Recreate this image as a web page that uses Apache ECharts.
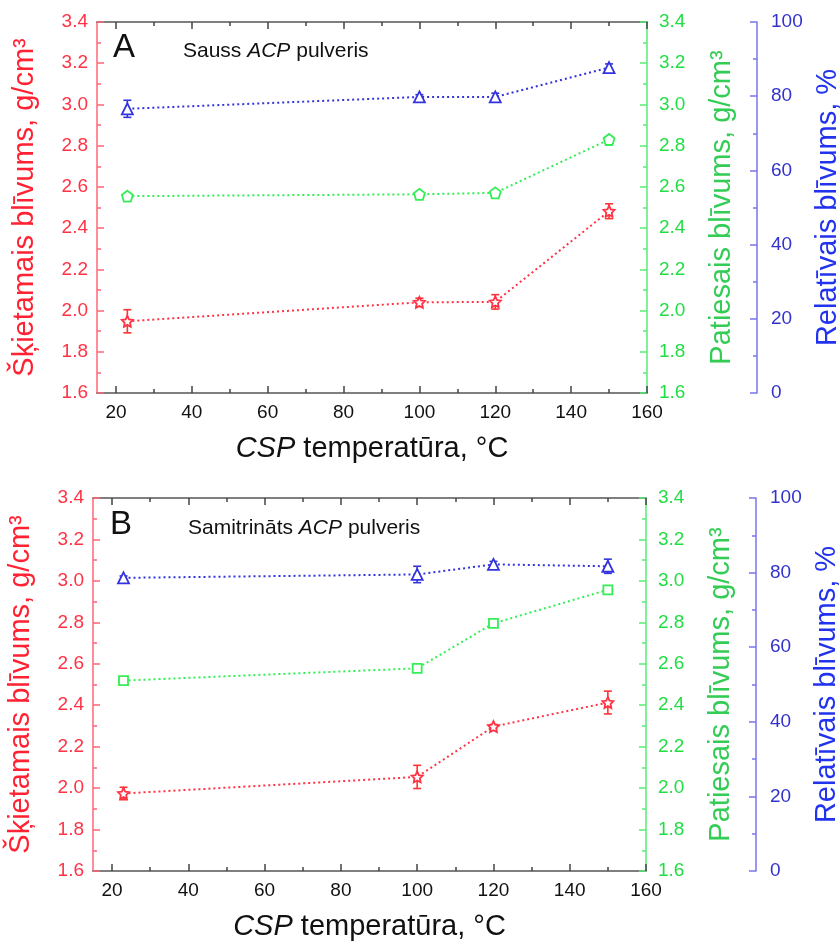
<!DOCTYPE html>
<html lang="lv">
<head>
  <meta charset="UTF-8">
  <title>CSP blīvums</title>
  <script src="https://cdn.jsdelivr.net/npm/echarts@6/dist/echarts.min.js"></script>
</head>
<body style="margin:0;background:#fff">
  <div id="main" style="width:840px;height:951px"></div>
  <script type="text/javascript">
    // dati nolasīti no attēla
    var temps = [23, 100, 120, 150];
    var xMajor = [20, 40, 60, 80, 100, 120, 140, 160];
    var xMinor = [30, 50, 70, 90, 110, 130, 150];

    // A: sauss ACP pulveris
    var apparentA = [1.948, 2.04, 2.042, 2.482];
    var apparentErrA = [0.056, 0.02, 0.035, 0.036];
    var trueA = [2.555, 2.564, 2.571, 2.83];
    var relA = [76.6, 79.8, 79.8, 87.7];
    var relErrA = [2.3, 0.6, 1.0, 1.0];

    // B: samitrināts ACP pulveris
    var apparentB = [1.974, 2.054, 2.297, 2.413];
    var apparentErrB = [0.03, 0.056, 0.01, 0.055];
    var trueB = [2.519, 2.578, 2.795, 2.957];
    var relB = [78.6, 79.5, 82.2, 81.7];
    var relErrB = [0.5, 2.2, 0.8, 1.9];

    var FONT = 'Liberation Sans, Arial, sans-serif';
    var RED = '#ff3344', GREEN = '#22dd44', BLUE = '#3333cc';
    var STAR = 'path://M0,-10L2.9,-4L9.5,-3.1L4.7,1.5L5.9,8.1L0,5L-5.9,8.1L-4.7,1.5L-9.5,-3.1L-2.9,-4Z';
    var PENTA = 'path://M0,-10L9.5,-3.1L5.9,8.1L-5.9,8.1L-9.5,-3.1Z';

    var myChart = echarts.init(document.getElementById('main'));

    function pts(vals) {
      return temps.map(function (t, i) { return [t, vals[i]]; });
    }
    function errPts(vals, errs) {
      return temps.map(function (t, i) { return [t, vals[i], errs[i]]; });
    }

    function xAxes(grid) {
      var base = {
        gridIndex: grid, type: 'value', min: 15, max: 160,
        splitLine: { show: false }
      };
      return [
        Object.assign({}, base, {
          position: 'bottom',
          axisLine: { lineStyle: { color: '#555', width: 1.5 } },
          axisTick: { inside: true, length: 7, customValues: xMajor, lineStyle: { color: '#444', width: 1.5 } },
          axisLabel: { customValues: xMajor, color: '#111', fontSize: 19, fontFamily: FONT, margin: 10 },
          name: '{i|CSP} temperatūra, °C',
          nameLocation: 'middle', nameGap: 41,
          nameTextStyle: {
            color: '#111', fontSize: 29, fontFamily: FONT,
            rich: { i: { fontStyle: 'italic', fontSize: 29, fontFamily: FONT, color: '#111' } }
          }
        }),
        Object.assign({}, base, {
          position: 'bottom',
          axisLine: { show: false },
          axisTick: { inside: true, length: 4, customValues: xMinor, lineStyle: { color: '#444', width: 1.5 } },
          axisLabel: { show: false }
        }),
        Object.assign({}, base, {
          position: 'top',
          axisLine: { lineStyle: { color: '#555', width: 1.5 } },
          axisTick: { inside: true, length: 7, customValues: xMajor, lineStyle: { color: '#444', width: 1.5 } },
          axisLabel: { show: false }
        }),
        Object.assign({}, base, {
          position: 'top',
          axisLine: { show: false },
          axisTick: { inside: true, length: 4, customValues: xMinor, lineStyle: { color: '#444', width: 1.5 } },
          axisLabel: { show: false }
        })
      ];
    }

    function yAxes(grid) {
      var fmt = function (v) { return v.toFixed(1); };
      return [
        {
          gridIndex: grid, type: 'value', position: 'left', min: 1.6, max: 3.4, interval: 0.2,
          splitLine: { show: false },
          axisLine: { show: true, lineStyle: { color: '#ff6677', width: 1.5 } },
          axisTick: { inside: true, length: 7, lineStyle: { color: '#ff6677', width: 1.5 } },
          minorTick: { show: true, splitNumber: 2, length: 4, lineStyle: { color: '#ff6677', width: 1.5 } },
          axisLabel: { formatter: fmt, color: RED, fontSize: 19, fontFamily: FONT, margin: 9 },
          name: 'Šķietamais blīvums, g/cm³', nameLocation: 'middle', nameGap: 58, nameRotate: 90,
          nameTextStyle: { color: '#ff2233', fontSize: 29, fontFamily: FONT }
        },
        {
          gridIndex: grid, type: 'value', position: 'right', min: 1.6, max: 3.4, interval: 0.2,
          splitLine: { show: false },
          axisLine: { show: true, lineStyle: { color: '#55ee77', width: 1.5 } },
          axisTick: { inside: true, length: 7, lineStyle: { color: '#55ee77', width: 1.5 } },
          minorTick: { show: true, splitNumber: 2, length: 4, lineStyle: { color: '#55ee77', width: 1.5 } },
          axisLabel: { formatter: fmt, color: GREEN, fontSize: 19, fontFamily: FONT, margin: 12 },
          name: 'Patiesais blīvums, g/cm³', nameLocation: 'middle', nameGap: 60, nameRotate: 90,
          nameTextStyle: { color: '#33cc55', fontSize: 29, fontFamily: FONT }
        },
        {
          gridIndex: grid, type: 'value', position: 'right', offset: 110, min: 0, max: 100, interval: 20,
          splitLine: { show: false },
          axisLine: { show: true, lineStyle: { color: '#7777ee', width: 1.5 } },
          axisTick: { inside: true, length: 7, lineStyle: { color: '#7777ee', width: 1.5 } },
          minorTick: { show: true, splitNumber: 2, length: 4, lineStyle: { color: '#7777ee', width: 1.5 } },
          axisLabel: { color: BLUE, fontSize: 19, fontFamily: FONT, margin: 14 },
          name: 'Relatīvais blīvums, %', nameLocation: 'middle', nameGap: 40, nameRotate: 90,
          nameTextStyle: { color: '#2233ee', fontSize: 29, fontFamily: FONT }
        }
      ];
    }

    function lineSeries(xi, yi, vals, color, symbol, size) {
      return {
        type: 'line', xAxisIndex: xi, yAxisIndex: yi, data: pts(vals),
        symbol: symbol, symbolSize: size, z: 3,
        lineStyle: { color: color, width: 2, type: [2, 3] },
        itemStyle: { color: '#fff', borderColor: color, borderWidth: 1.8 },
        animation: false
      };
    }

    function errSeries(xi, yi, vals, errs, color) {
      return {
        type: 'custom', xAxisIndex: xi, yAxisIndex: yi, coordinateSystem: 'cartesian2d',
        data: errPts(vals, errs), z: 2, animation: false,
        encode: { x: 0, y: 1 },
        renderItem: function (params, api) {
          var x = api.value(0), y = api.value(1), e = api.value(2);
          var hi = api.coord([x, y + e]);
          var lo = api.coord([x, y - e]);
          var w = 4;
          var st = { stroke: color, lineWidth: 1.6 };
          return {
            type: 'group',
            children: [
              { type: 'line', shape: { x1: hi[0], y1: hi[1], x2: lo[0], y2: lo[1] }, style: st },
              { type: 'line', shape: { x1: hi[0] - w, y1: hi[1], x2: hi[0] + w, y2: hi[1] }, style: st },
              { type: 'line', shape: { x1: lo[0] - w, y1: lo[1], x2: lo[0] + w, y2: lo[1] }, style: st }
            ]
          };
        }
      };
    }

    var textBase = { fontWeight: 'normal', color: '#111', fontFamily: FONT };

    var option = {
      backgroundColor: '#fff',
      animation: false,
      title: [
        { text: 'A', left: 113, top: 31, padding: 0, textStyle: Object.assign({ fontSize: 33 }, textBase) },
        {
          text: 'Sauss {i|ACP} pulveris', left: 183, top: 41, padding: 0,
          textStyle: Object.assign({ fontSize: 21, rich: { i: { fontStyle: 'italic', fontSize: 21, color: '#111', fontFamily: FONT } } }, textBase)
        },
        { text: 'B', left: 110, top: 508, padding: 0, textStyle: Object.assign({ fontSize: 33 }, textBase) },
        {
          text: 'Samitrināts {i|ACP} pulveris', left: 188, top: 518, padding: 0,
          textStyle: Object.assign({ fontSize: 21, rich: { i: { fontStyle: 'italic', fontSize: 21, color: '#111', fontFamily: FONT } } }, textBase)
        }
      ],
      grid: [
        { left: 97, top: 22, width: 550, height: 371, outerBoundsMode: 'none' },
        { left: 93, top: 498, width: 553, height: 373, outerBoundsMode: 'none' }
      ],
      xAxis: xAxes(0).concat(xAxes(1)),
      yAxis: yAxes(0).concat(yAxes(1)),
      series: [
        errSeries(0, 0, apparentA, apparentErrA, '#ff3333'),
        errSeries(0, 2, relA, relErrA, '#3333dd'),
        lineSeries(0, 0, apparentA, '#ff3344', STAR, 11),
        lineSeries(0, 1, trueA, '#33ee55', PENTA, 11),
        lineSeries(0, 2, relA, '#3333dd', 'triangle', 11),

        errSeries(4, 3, apparentB, apparentErrB, '#ff3333'),
        errSeries(4, 5, relB, relErrB, '#3333dd'),
        lineSeries(4, 3, apparentB, '#ff3344', STAR, 11),
        lineSeries(4, 4, trueB, '#33ee55', 'rect', 9),
        lineSeries(4, 5, relB, '#3333dd', 'triangle', 11)
      ]
    };

    myChart.setOption(option);
  </script>
</body>
</html>
